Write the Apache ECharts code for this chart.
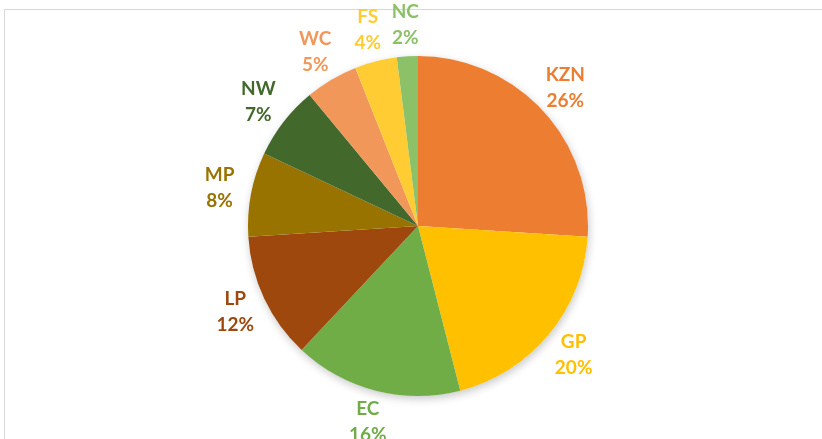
<!DOCTYPE html>
<html>
<head>
<meta charset="utf-8">
<script src="https://cdn.jsdelivr.net/npm/echarts@6/dist/echarts.min.js"></script>
<style>html,body{margin:0;padding:0;background:#fff;}#c{width:822px;height:439px;}</style>
</head>
<body>
<div id="c"></div>
<script>
const categories = ['KZN', 'GP', 'EC', 'LP', 'MP', 'NW', 'WC', 'FS', 'NC'];
const values = [26, 20, 16, 12, 8, 7, 5, 4, 2];
const colors = ['#ED7D31', '#FFC000', '#70AD47', '#9E480E', '#997300', '#43682B', '#F1975A', '#FFCD33', '#8CC168'];

const chart = echarts.init(document.getElementById('c'), null, {renderer: 'canvas'});
const total = values.reduce((a, b) => a + b, 0);
const sliceData = categories.map((name, i) => ({name, value: values[i], itemStyle: {color: colors[i]}}));
const labelData = categories.map((name, i) => ({
  name, value: values[i],
  label: {color: colors[i]}
}));

chart.setOption({
  animation: false,
  backgroundColor: '#fff',
  graphic: [{
    type: 'rect', silent: true, z: -10,
    shape: {x: 4.5, y: 9.5, width: 900, height: 500},
    style: {fill: '#fff', stroke: '#D9D9D9', lineWidth: 1}
  }],
  series: [
    {
      type: 'pie', center: [418, 226], radius: 170, silent: true, z: 1,
      data: [{value: 1, itemStyle: {color: '#fff', shadowBlur: 9, shadowColor: 'rgba(0,0,0,0.22)', shadowOffsetX: 1, shadowOffsetY: 3}}],
      label: {show: false}, labelLine: {show: false}
    },
    {
      type: 'pie', center: [418, 226], radius: 170, startAngle: 90, clockwise: true, z: 2,
      silent: true,
      data: sliceData,
      label: {show: false}, labelLine: {show: false},
      itemStyle: {borderWidth: 0}
    },
    {
      type: 'pie', center: [418, 226], radius: [170, 228], startAngle: 90, clockwise: true, z: 3,
      silent: true,
      data: labelData,
      itemStyle: {color: 'rgba(0,0,0,0)'},
      label: {
        show: true, position: 'inside',
        fontFamily: 'Lato', fontWeight: 'bold', fontSize: 19, lineHeight: 26,
        formatter: p => p.name + '\n' + Math.round(p.value / total * 100) + '%'
      },
      labelLine: {show: false}
    }
  ]
});
</script>
</body>
</html>
